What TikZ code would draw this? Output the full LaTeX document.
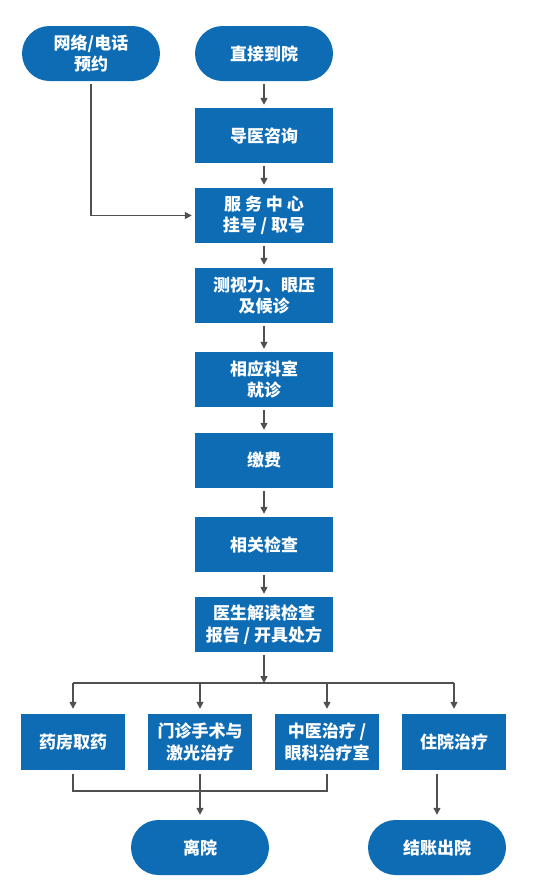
\documentclass[tikz,border=0pt]{standalone}
\usepackage{fontspec}
\newfontfamily\cjk{Noto Sans CJK SC}
\usepackage{xcolor}
\usetikzlibrary{
    arrows.meta,
    calc,
    positioning
}
\definecolor{flowblue}{RGB}{14,108,180}
\definecolor{flowgray}{RGB}{80,80,80}
\tikzset{
    card/.style={draw=none, fill=flowblue, text=white, align=center, inner sep=0pt,
        font=\cjk\bfseries\fontsize{17}{21.5}\selectfont},
    pill/.style={card, rounded corners=27.5pt, minimum width=138pt, minimum height=55pt},
    mainbox/.style={card, minimum width=138pt, minimum height=55pt},
    sidebox/.style={card, minimum width=104pt, minimum height=56pt},
    link/.style={draw=flowgray, line width=1.5pt},
    flow/.style={link, -{Triangle[length=7pt, width=7pt]}, shorten <=3pt, shorten >=3pt}
}

\begin{document}
\begin{tikzpicture}[x=1pt, y=-1pt]
                        \useasboundingbox (0, 0) rectangle (534, 892);
                        \node[pill] (web) at (91, 53.5) {网络/电话\\预约};
                        \node[pill] (direct) at (264, 53.5) {直接到院};
                        \node[mainbox] (guide) at (264, 135.5) {导医咨询};
                        \node[mainbox] (service) at (264, 215.5) {服 务 中 心\\挂号 / 取号};
                        \node[mainbox] (sight) at (264, 295.5) {测视力、眼压\\及候诊};
                        \node[mainbox] (clinic) at (264, 379.5) {相应科室\\就诊};
                        \node[mainbox] (pay) at (264, 460.5) {缴费};
                        \node[mainbox] (exam) at (264, 544.5) {相关检查};
                        \node[mainbox] (report) at (264, 624.5) {医生解读检查\\报告 / 开具处方};
                        \node[sidebox] (drug) at (73, 742) {药房取药};
                        \node[sidebox] (surgery) at (200, 742) {门诊手术与\\激光治疗};
                        \node[sidebox] (tcm) at (327, 742) {中医治疗 /\\眼科治疗室};
                        \node[sidebox] (ward) at (454, 742) {住院治疗};
                        \node[pill] (leave) at (200, 847.5) {离院};
                        \node[pill] (checkout) at (437, 847.5) {结账出院};
                        \coordinate (split) at (264, 683);
                        \coordinate (join) at (200, 791);
                        \draw[flow]
                        (direct) -- (guide);
                        \draw[flow]
                        (guide) -- (service);
                        \draw[flow]
                        (service) -- (sight);
                        \draw[flow]
                        (sight) -- (clinic);
                        \draw[flow]
                        (clinic) -- (pay);
                        \draw[flow]
                        (pay) -- (exam);
                        \draw[flow]
                        (exam) -- (report);
                        \draw[flow]
                        (web.south) |- (service.west);
                        \draw[flow, shorten >=0pt]
                        (report) -- (split);
                        \draw[link]
                        (drug |- split) -- (ward |- split);
                        \draw[flow, shorten <=0pt, shorten >=5pt]
                        (drug |- split) -- (drug.north);
                        \draw[flow, shorten <=0pt, shorten >=5pt]
                        (surgery |- split) -- (surgery.north);
                        \draw[flow, shorten <=0pt, shorten >=5pt]
                        (tcm |- split) -- (tcm.north);
                        \draw[flow, shorten <=0pt, shorten >=5pt]
                        (ward |- split) -- (ward.north);
                        \draw[link]
                        ($(drug.south) + (0, 4)$) |- (join) -| ($(tcm.south) + (0, 4)$);
                        \draw[flow, shorten <=4pt, shorten >=5pt]
                        (surgery) -- (leave);
                        \draw[flow, shorten <=4pt, shorten >=5pt]
                        (checkout |- ward.south) -- (checkout);
                    \end{tikzpicture}
\end{document}
